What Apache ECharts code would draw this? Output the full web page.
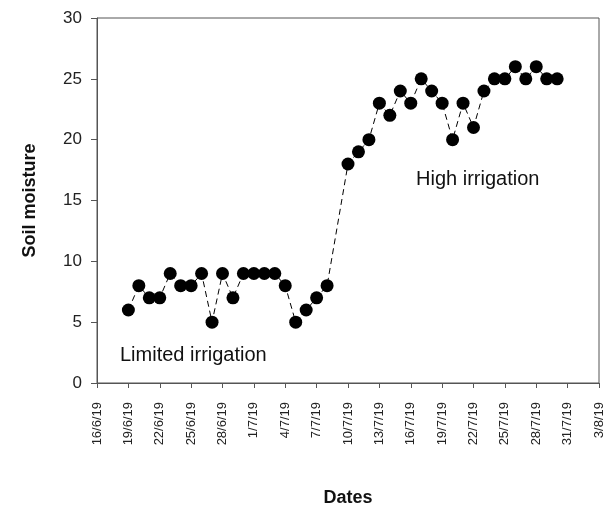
<!DOCTYPE html>
<html>
<head>
<meta charset="utf-8">
<script src="https://cdn.jsdelivr.net/npm/echarts@6/dist/echarts.min.js"></script>
<style>html,body{margin:0;padding:0;background:#fff}#c{width:605px;height:510px}</style>
</head>
<body>
<div id="c"></div>
<script>
// Axis start date (day 0) and tick labels (every 3 days)
var startDate = [2019, 6, 16];
var tickLabels = ['16/6/19','19/6/19','22/6/19','25/6/19','28/6/19','1/7/19','4/7/19','7/7/19','10/7/19','13/7/19','16/7/19','19/7/19','22/7/19','25/7/19','28/7/19','31/7/19','3/8/19'];
// Measurement dates (d/m/yy) and soil moisture values
var dates = ['19/6/19','20/6/19','21/6/19','22/6/19','23/6/19','24/6/19','25/6/19','26/6/19','27/6/19','28/6/19',
             '29/6/19','30/6/19','1/7/19','2/7/19','3/7/19','4/7/19','5/7/19','6/7/19','7/7/19','8/7/19',
             '10/7/19','11/7/19','12/7/19','13/7/19','14/7/19','15/7/19','16/7/19','17/7/19','18/7/19','19/7/19',
             '20/7/19','21/7/19','22/7/19','23/7/19','24/7/19','25/7/19','26/7/19','27/7/19','28/7/19','29/7/19','30/7/19'];
var moisture = [6,8,7,7,9,8,8,9,5,9,
                7,9,9,9,9,8,5,6,7,8,
                18,19,20,23,22,24,23,25,24,23,
                20,23,21,24,25,25,26,25,26,25,25];
var yTicks = [0,5,10,15,20,25,30];

function dayIndex(s){
  var p = s.split('/');
  var d = Date.UTC(2000 + (+p[2]), (+p[1]) - 1, +p[0]);
  var s0 = Date.UTC(startDate[0], startDate[1]-1, startDate[2]);
  return Math.round((d - s0) / 86400000);
}
var seriesData = dates.map(function(d, i){ return [dayIndex(d), moisture[i]]; });

var chart = echarts.init(document.getElementById('c'), null, {renderer:'canvas'});
var axisColor = '#555';
var font = 'Liberation Sans, Arial, sans-serif';
chart.setOption({
  animation: false,
  backgroundColor: '#fff',
  grid: {left: 97, right: 6, top: 18, bottom: 127, show: true, borderColor: axisColor, borderWidth: 1,
         containLabel: false, outerBoundsMode: 'none'},
  xAxis: {
    type: 'value', min: 0, max: 48, interval: 3,
    name: 'Dates', nameLocation: 'middle', nameGap: 106,
    nameTextStyle: {fontFamily: font, fontSize: 18, fontWeight: 'bold', color: '#111'},
    axisLine: {lineStyle: {color: axisColor, width: 1}},
    axisTick: {show: true, length: 5, inside: false, lineStyle: {color: axisColor}},
    splitLine: {show: false},
    axisLabel: {rotate: 90, margin: 19, fontFamily: font, fontSize: 13, color: '#222',
      formatter: function(v){ return tickLabels[Math.round(v/3)] || ''; }}
  },
  yAxis: {
    type: 'value', min: yTicks[0], max: yTicks[yTicks.length-1], interval: 5,
    name: 'Soil moisture', nameLocation: 'middle', nameGap: 58, nameRotate: 90,
    nameTextStyle: {fontFamily: font, fontSize: 18, fontWeight: 'bold', color: '#111'},
    axisLine: {show: true, lineStyle: {color: axisColor, width: 1}},
    axisTick: {show: true, length: 6, inside: false, lineStyle: {color: axisColor}},
    splitLine: {show: false},
    axisLabel: {margin: 15, fontFamily: font, fontSize: 17, color: '#222'}
  },
  series: [{
    type: 'line',
    data: seriesData,
    symbol: 'circle', symbolSize: 13,
    itemStyle: {color: '#000'},
    lineStyle: {color: '#000', width: 1, type: [6, 4]},
    z: 3
  }],
  graphic: [
    {type: 'text', left: 120, top: 345, style: {text: 'Limited irrigation', fontFamily: font, fontSize: 20, fill: '#111'}},
    {type: 'text', left: 416, top: 169, style: {text: 'High irrigation', fontFamily: font, fontSize: 20, fill: '#111'}}
  ]
});
</script>
</body>
</html>
